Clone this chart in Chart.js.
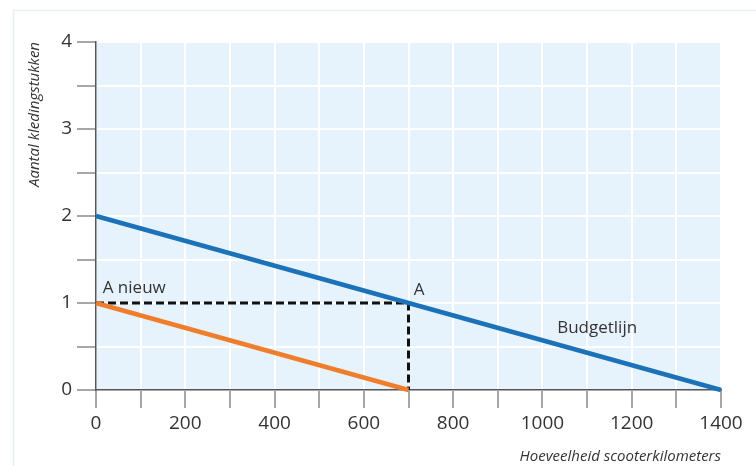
<!DOCTYPE html>
<html>
<head>
<meta charset="utf-8">
<script src="https://cdn.jsdelivr.net/npm/chart.js@4"></script>
<style>
  html, body { margin: 0; padding: 0; background: #ffffff; }
  #wrap { width: 756px; height: 466px; }
</style>
</head>
<body>
<div id="wrap"><canvas id="chartBudget" width="756" height="466"></canvas></div>
<script>
// data
const budgetX = [0, 1400];
const budgetY = [2, 0];
const nieuwX = [0, 700];
const nieuwY = [1, 0];
const guideX = [0, 700, 700];
const guideY = [1, 1, 0];
const xTickLabels = ['0', '200', '400', '600', '800', '1000', '1200', '1400'];
const yTickLabels = ['0', '1', '2', '3', '4'];
const noteTexts = ['A nieuw', 'A', 'Budgetlijn'];
const noteX = [15, 712, 1033];
const noteY = [1.115, 1.09, 0.655];

function toPoints(xs, ys) {
    return xs.map((x, i) => ({ x: x, y: ys[i] }));
}

const fontName = "'Open Sans', 'Liberation Sans', sans-serif";

// light frame + blue plot background
const backgroundPlugin = {
    id: 'background',
    beforeDraw(chart) {
        const ctx = chart.ctx;
        const a = chart.chartArea;
        ctx.save();
        ctx.strokeStyle = '#e4eff7';
        ctx.lineWidth = 1.5;
        ctx.strokeRect(13.5, 10.5, 900, 600);
        ctx.fillStyle = '#e6f3fc';
        ctx.fillRect(a.left, a.top, a.right - a.left, a.bottom - a.top);
        ctx.restore();
    }
};

// text notes on the plot
const notesPlugin = {
    id: 'notes',
    afterDatasetsDraw(chart) {
        const ctx = chart.ctx;
        const xs = chart.scales.x;
        const ys = chart.scales.y;
        ctx.save();
        ctx.fillStyle = '#333333';
        ctx.font = '17px ' + fontName;
        ctx.textAlign = 'left';
        ctx.textBaseline = 'alphabetic';
        noteTexts.forEach((t, i) => {
            ctx.fillText(t, xs.getPixelForValue(noteX[i]), ys.getPixelForValue(noteY[i]));
        });
        ctx.restore();
    }
};

const ctx = document.getElementById('chartBudget').getContext('2d');
const chart = new Chart(ctx, {
    type: 'line',
    data: {
        datasets: [
            {
                label: 'Budgetlijn',
                data: toPoints(budgetX, budgetY),
                borderColor: '#1b72b8',
                borderWidth: 4.5,
                pointRadius: 0,
                tension: 0,
                clip: false
            },
            {
                label: 'A nieuw',
                data: toPoints(nieuwX, nieuwY),
                borderColor: '#f07d2c',
                borderWidth: 4.5,
                pointRadius: 0,
                tension: 0,
                clip: false
            },
            {
                label: 'Hulplijn',
                data: toPoints(guideX, guideY),
                borderColor: '#111111',
                borderWidth: 3,
                borderDash: [8, 4],
                pointRadius: 0,
                tension: 0,
                clip: false
            }
        ]
    },
    options: {
        responsive: false,
        animation: false,
        devicePixelRatio: 1,
        layout: {
            padding: { top: 42, right: 35, left: 0, bottom: 0 }
        },
        plugins: {
            legend: { display: false },
            tooltip: { enabled: false }
        },
        scales: {
            x: {
                type: 'linear',
                min: 0,
                max: 1400,
                afterFit: s => { s.height = 76; },
                ticks: {
                    stepSize: 100,
                    autoSkip: false,
                    maxRotation: 0,
                    padding: 4,
                    color: '#333333',
                    font: { family: fontName, size: 19 },
                    callback: v => (v % 200 === 0 ? xTickLabels[v / 200] : '')
                },
                grid: {
                    color: '#ffffff',
                    lineWidth: 2,
                    tickColor: '#8a8a8a',
                    tickLength: 18,
                    tickWidth: 1.5
                },
                border: { color: '#555555', width: 1.5 },
                title: {
                    display: true,
                    text: 'Hoeveelheid scooterkilometers',
                    align: 'end',
                    color: '#333333',
                    font: { family: fontName, size: 15, style: 'italic' },
                    padding: { top: 7, bottom: 0 }
                }
            },
            y: {
                type: 'linear',
                min: 0,
                max: 4,
                afterFit: s => { s.width = 96; },
                ticks: {
                    stepSize: 0.5,
                    autoSkip: false,
                    padding: 5,
                    color: '#333333',
                    font: { family: fontName, size: 19 },
                    callback: v => (Number.isInteger(v) ? yTickLabels[v] : '')
                },
                grid: {
                    color: '#ffffff',
                    lineWidth: 2,
                    tickColor: '#8a8a8a',
                    tickLength: 19,
                    tickWidth: 1.5
                },
                border: { color: '#555555', width: 1.5 },
                title: {
                    display: true,
                    text: 'Aantal kledingstukken',
                    align: 'end',
                    color: '#333333',
                    font: { family: fontName, size: 15, style: 'italic' },
                    padding: { top: 26, bottom: 0 }
                }
            }
        }
    },
    plugins: [backgroundPlugin, notesPlugin]
});
</script>
</body>
</html>
